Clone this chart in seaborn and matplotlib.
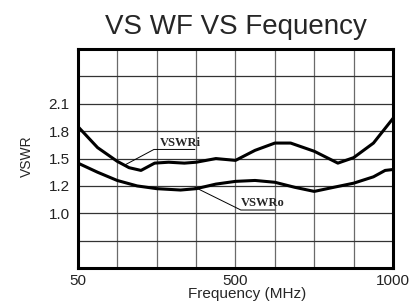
import numpy as np
import pandas as pd
import seaborn as sns
import matplotlib.pyplot as plt

# --- data ---
freq_i = [50, 106, 162, 196, 230, 269, 309, 354, 388, 444, 500, 562, 625, 675, 750, 825, 875, 938, 1000]
vswr_i = [1.85, 1.62, 1.47, 1.40, 1.37, 1.45, 1.46, 1.45, 1.46, 1.50, 1.48, 1.59, 1.67, 1.67, 1.58, 1.45, 1.51, 1.67, 1.94]

freq_o = [50, 106, 162, 219, 275, 343, 388, 444, 500, 562, 625, 688, 750, 812, 875, 938, 975, 1000]
vswr_o = [1.45, 1.35, 1.26, 1.20, 1.18, 1.17, 1.18, 1.22, 1.25, 1.26, 1.24, 1.19, 1.16, 1.19, 1.23, 1.30, 1.37, 1.38]

x_ticks = [50, 500, 1000]
y_ticks = [1.0, 1.2, 1.5, 1.8, 2.1]

# chart grid is not linear: evenly spaced cells
x_knots = [50, 500, 1000]
x_cells = [0, 4, 8]
y_knots = [0.6, 0.8, 1.0, 1.2, 1.5, 1.8, 2.1, 2.4, 2.7]
y_cells = list(range(9))

df = pd.concat([
    pd.DataFrame({'freq': freq_i, 'vswr': vswr_i, 'port': 'VSWRi'}),
    pd.DataFrame({'freq': freq_o, 'vswr': vswr_o, 'port': 'VSWRo'}),
], ignore_index=True)

sns.set_style('white')
plt.rcParams['font.family'] = ['Liberation Sans', 'DejaVu Sans']

fig = plt.figure(figsize=(4.2, 3.07), dpi=100)
ax = fig.add_axes([0.1857, 0.127, 0.75, 0.713])

ax.set_xscale('function', functions=(lambda v: np.interp(v, x_knots, x_cells),
                                     lambda c: np.interp(c, x_cells, x_knots)))
ax.set_yscale('function', functions=(lambda v: np.interp(v, y_knots, y_cells),
                                     lambda c: np.interp(c, y_cells, y_knots)))

sns.lineplot(data=df, x='freq', y='vswr', hue='port', palette=['black', 'black'],
             linewidth=2.2, legend=False, ax=ax)

ax.set_xlim(50, 1000)
ax.set_ylim(0.6, 2.7)

# grid cells
ax.set_xticks(x_ticks)
ax.set_xticklabels([str(t) for t in x_ticks], fontsize=11, color='#222222')
ax.set_xticks(np.interp(np.arange(9), x_cells, x_knots), minor=True)
ax.set_yticks(y_ticks)
ax.set_yticklabels([f'{t:.1f}' for t in y_ticks], fontsize=11, color='#222222')
ax.set_yticks(y_knots, minor=True)
ax.tick_params(which='both', length=0)
ax.tick_params(axis='x', pad=4)
ax.tick_params(axis='y', pad=6)
ax.xaxis.grid(True, which='both', color='#6a6a6a', linewidth=0.9)
ax.yaxis.grid(True, which='both', color='#333333', linewidth=0.9)

for s in ax.spines.values():
    s.set_color('black')
    s.set_linewidth(2.2)

ax.set_title('VS WF VS Fequency', fontsize=20, pad=11)
ax.set_xlabel('Frequency (MHz)', fontsize=11)
ax.xaxis.set_label_coords(0.537, -0.085)
ax.set_ylabel('VSWR', fontsize=10, family=['Liberation Sans Narrow', 'Liberation Sans'])
ax.yaxis.set_label_coords(-0.14, 0.51)

# callouts
lbl = dict(fontsize=9, fontweight='bold', family=['Liberation Serif'], va='bottom', ha='left')
ax.plot([184, 267, 384], [1.43, 1.60, 1.60], color='black', linewidth=0.7)
ax.text(284, 1.61, 'VSWRi', **lbl)
ax.plot([384, 517, 625], [1.19, 1.024, 1.024], color='black', linewidth=0.7)
ax.text(517, 1.03, 'VSWRo', **lbl)

plt.savefig('out.png', dpi=100)
